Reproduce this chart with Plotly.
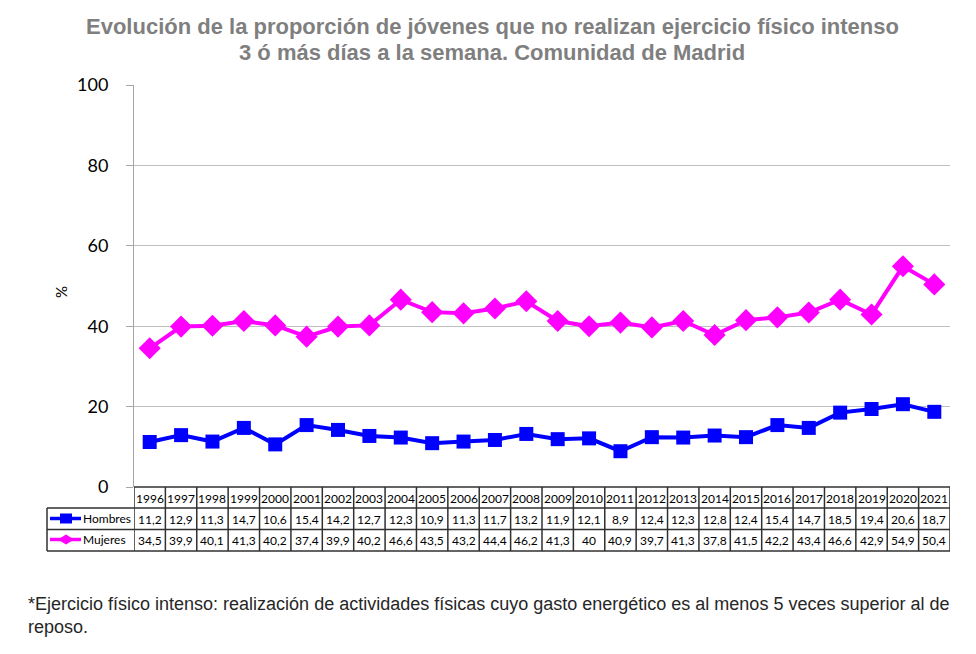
import plotly.graph_objects as go

years = list(range(1996, 2022))
hombres = [11.2, 12.9, 11.3, 14.7, 10.6, 15.4, 14.2, 12.7, 12.3, 10.9, 11.3, 11.7, 13.2,
           11.9, 12.1, 8.9, 12.4, 12.3, 12.8, 12.4, 15.4, 14.7, 18.5, 19.4, 20.6, 18.7]
mujeres = [34.5, 39.9, 40.1, 41.3, 40.2, 37.4, 39.9, 40.2, 46.6, 43.5, 43.2, 44.4, 46.2,
           41.3, 40, 40.9, 39.7, 41.3, 37.8, 41.5, 42.2, 43.4, 46.6, 42.9, 54.9, 50.4]
y_ticks = [0, 20, 40, 60, 80, 100]
title_lines = ["Evolución de la proporción de jóvenes que no realizan ejercicio físico intenso",
               "3 ó más días a la semana. Comunidad de Madrid"]
footnote = ("*Ejercicio físico intenso: realización de actividades físicas cuyo gasto energético "
            "es al menos 5 veces superior al de<br>reposo.")

OFF = 8  # page body margin
W, H = 976 - OFF, 654 - OFF
# target pixel positions in the 976x654 screenshot
PL, PR, PT, PB = 134, 950, 85, 487
L, T = PL - OFF, PT - OFF
R = W - (PR - OFF)
B = H - (PB - OFF)
PH = PB - PT
PW = PR - PL


def py(p):  # screenshot pixel y -> paper y
    return (PB - p) / PH


def px(p):  # screenshot pixel x -> paper x
    return (p - PL) / PW


def fmt(v):
    return f"{v:g}".replace(".", ",")


BLUE = "#0000ff"
MAG = "#ff00ff"
fig = go.Figure()
fig.add_trace(go.Scatter(x=years, y=hombres, name="Hombres", mode="lines+markers",
                         line=dict(color=BLUE, width=4),
                         marker=dict(symbol="square", size=14, color=BLUE)))
fig.add_trace(go.Scatter(x=years, y=mujeres, name="Mujeres", mode="lines+markers",
                         line=dict(color=MAG, width=4),
                         marker=dict(symbol="diamond", size=17, color=MAG)))

ann = []
shapes = []
tf = dict(family="Lato, Open Sans, sans-serif", size=12, color="#000000")
row_hdr, row_h, row_m = py(498), py(519), py(540)
for i, yr in enumerate(years):
    for txt, yy in ((str(yr), row_hdr), (fmt(hombres[i]), row_h), (fmt(mujeres[i]), row_m)):
        ann.append(dict(x=yr, y=yy, xref="x", yref="paper", text=txt, showarrow=False, font=tf,
                        xanchor="center", yanchor="middle"))

LC = "#303030"
y0, y1, y2, y3 = py(487), py(508), py(529.5), py(551)
xl = px(47)
shapes.append(dict(type="line", xref="paper", yref="paper", x0=0, x1=1, y0=y0, y1=y0, line=dict(color=LC, width=1.5)))
for yy in (y1, y2, y3):
    shapes.append(dict(type="line", xref="paper", yref="paper", x0=xl, x1=1, y0=yy, y1=yy, line=dict(color=LC, width=1.5)))
for yr in years + [years[-1] + 1]:
    shapes.append(dict(type="line", xref="x", yref="paper", x0=yr - 0.5, x1=yr - 0.5, y0=y0, y1=y3,
                       line=dict(color=LC, width=1.5)))
shapes.append(dict(type="line", xref="paper", yref="paper", x0=xl, x1=xl, y0=y1, y1=y3, line=dict(color=LC, width=1.5)))

# legend keys in the table
for (pyc, col, kind, name) in ((518.5, BLUE, "sq", "Hombres"), (539.5, MAG, "dm", "Mujeres")):
    yc = py(pyc)
    shapes.append(dict(type="line", xref="paper", yref="paper", x0=px(50), x1=px(81), y0=yc, y1=yc,
                       line=dict(color=col, width=3.5)))
    if kind == "sq":
        shapes.append(dict(type="rect", xref="paper", yref="paper", x0=px(60), x1=px(72),
                           y0=py(pyc + 5), y1=py(pyc - 5), fillcolor=col, line=dict(width=0)))
    else:
        cx = 66
        path = (f"M {px(cx - 8)} {py(pyc)} L {px(cx)} {py(pyc - 5)} "
                f"L {px(cx + 8)} {py(pyc)} L {px(cx)} {py(pyc + 5)} Z")
        shapes.append(dict(type="path", xref="paper", yref="paper", path=path, fillcolor=col,
                           line=dict(width=0)))
    ann.append(dict(x=px(81), y=yc, xref="paper", yref="paper", text=name, showarrow=False,
                    xanchor="left", yanchor="middle", font=tf))

# title
for txt, yp in zip(title_lines, (26, 53)):
    ann.append(dict(x=px(492), xref="paper", y=py(yp), yref="paper", text=f"<b>{txt}</b>", showarrow=False,
                    font=dict(family="Liberation Sans, Arial, sans-serif", size=22, color="#7f7f7f"),
                    xanchor="center", yanchor="middle"))

# y axis title
ann.append(dict(x=px(61), y=py(292), xref="paper", yref="paper", text="%", showarrow=False, textangle=-90,
                xanchor="center", yanchor="middle",
                font=dict(family="Lato, sans-serif", size=15, color="#000000")))
# footnote
ann.append(dict(x=px(26), y=py(592), xref="paper", yref="paper", text=footnote, showarrow=False,
                xanchor="left", yanchor="top", align="left",
                font=dict(family="Liberation Sans, Arial, sans-serif", size=18, color="#262626")))

fig.update_layout(
    width=W, height=H, margin=dict(l=L, r=R, t=T, b=B),
    paper_bgcolor="white", plot_bgcolor="white", showlegend=False,
    annotations=ann, shapes=shapes,
    xaxis=dict(range=[1995.5, 2021.5], showticklabels=False, showgrid=False, zeroline=False,
               ticks="", showline=False, fixedrange=True),
    yaxis=dict(range=[0, 100], tickvals=y_ticks, showgrid=True, gridcolor="#c0c0c0", gridwidth=1,
               zeroline=False, showline=True, linecolor="#a6a6a6", linewidth=1,
               ticks="outside", ticklen=7, tickcolor="#a6a6a6", ticklabelstandoff=14,
               tickfont=dict(family="Lato, sans-serif", size=18, color="#000000")),
)
fig.write_html("out.html")
